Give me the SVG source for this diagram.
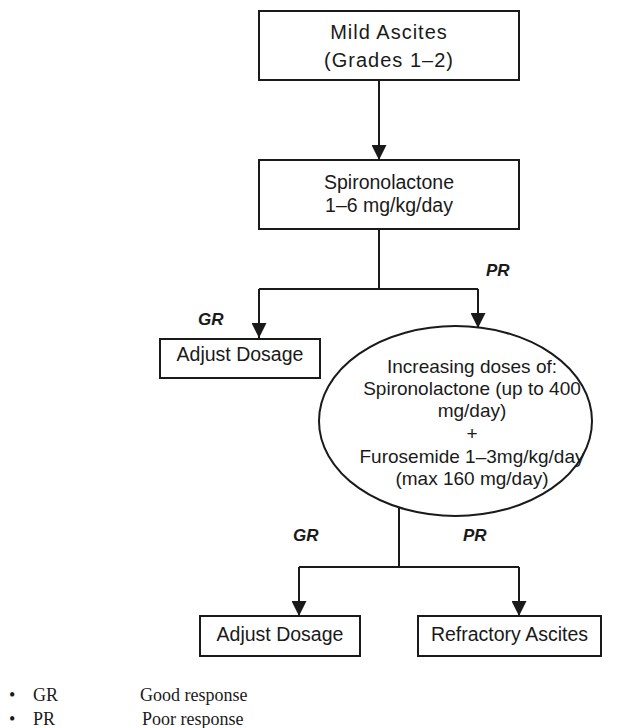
<svg xmlns="http://www.w3.org/2000/svg" width="620" height="728" viewBox="0 0 620 728">
<defs>
<style>
.box{fill:#fff;stroke:#1a1a1a;stroke-width:2}
.line{fill:none;stroke:#1a1a1a;stroke-width:2}
.t{font-family:"Liberation Sans",Arial,sans-serif;font-size:19.5px;fill:#1a1a1a;text-anchor:middle}
.e{font-size:19px}
.lbl{font-family:"Liberation Sans",Arial,sans-serif;font-size:17px;font-weight:bold;font-style:italic;fill:#1a1a1a}
.leg{font-family:"Liberation Serif","Times New Roman",serif;font-size:18px;fill:#1a1a1a}
</style>
<marker id="ah" viewBox="0 0 10 10" refX="10" refY="5" markerWidth="7.5" markerHeight="7.5" markerUnits="strokeWidth" orient="auto">
<path d="M0,0 L10,5 L0,10 Z" fill="#1a1a1a"/>
</marker>
</defs>
<g id="connectors">
<line class="line" x1="379" y1="80" x2="379" y2="160" marker-end="url(#ah)"/>
<polyline class="line" points="379,229 379,289"/>
<polyline class="line" points="259,289 478,289"/>
<line class="line" x1="259" y1="289" x2="259" y2="338" marker-end="url(#ah)"/>
<line class="line" x1="478" y1="289" x2="478" y2="328" marker-end="url(#ah)"/>
<polyline class="line" points="399,507 399,567"/>
<polyline class="line" points="299,567 519,567"/>
<line class="line" x1="299" y1="567" x2="299" y2="616" marker-end="url(#ah)"/>
<line class="line" x1="519" y1="567" x2="519" y2="616" marker-end="url(#ah)"/>
<text class="lbl" x="486" y="276">PR</text>
<text class="lbl" x="198" y="325">GR</text>
<text class="lbl" x="293" y="541">GR</text>
<text class="lbl" x="463" y="541">PR</text>
</g>
<g id="mild-ascites">
<rect class="box" x="259" y="11" width="260" height="69"/>
<text class="t" x="389" y="39" style="font-size:20px;letter-spacing:1px">Mild Ascites</text>
<text class="t" x="389" y="67" style="font-size:20px;letter-spacing:1px">(Grades 1–2)</text>
</g>
<g id="spironolactone">
<rect class="box" x="259" y="160" width="260" height="69"/>
<text class="t" x="389" y="189">Spironolactone</text>
<text class="t" x="389" y="212">1–6 mg/kg/day</text>
</g>
<g id="adjust-dosage-1">
<rect class="box" x="160" y="339" width="160" height="39"/>
<text class="t" x="240" y="361">Adjust Dosage</text>
</g>
<g id="increasing-doses">
<ellipse class="box" cx="455.5" cy="421" rx="136.5" ry="95"/>
<text class="t e" x="472" y="373">Increasing doses of:</text>
<text class="t e" x="472" y="395">Spironolactone (up to 400</text>
<text class="t e" x="472" y="417">mg/day)</text>
<text class="t e" x="472" y="440">+</text>
<text class="t e" x="472" y="463">Furosemide 1–3mg/kg/day</text>
<text class="t e" x="472" y="485">(max 160 mg/day)</text>
</g>
<g id="adjust-dosage-2">
<rect class="box" x="200" y="616" width="160" height="40"/>
<text class="t" x="280" y="641">Adjust Dosage</text>
</g>
<g id="refractory-ascites">
<rect class="box" x="418" y="616" width="183" height="40"/>
<text class="t" x="509.5" y="641">Refractory Ascites</text>
</g>
<g id="legend">
<text class="leg" x="9" y="701">•</text>
<text class="leg" x="33" y="701">GR</text>
<text class="leg" x="140" y="701">Good response</text>
<text class="leg" x="9" y="725">•</text>
<text class="leg" x="33" y="725">PR</text>
<text class="leg" x="142" y="725">Poor response</text>
</g>
</svg>
